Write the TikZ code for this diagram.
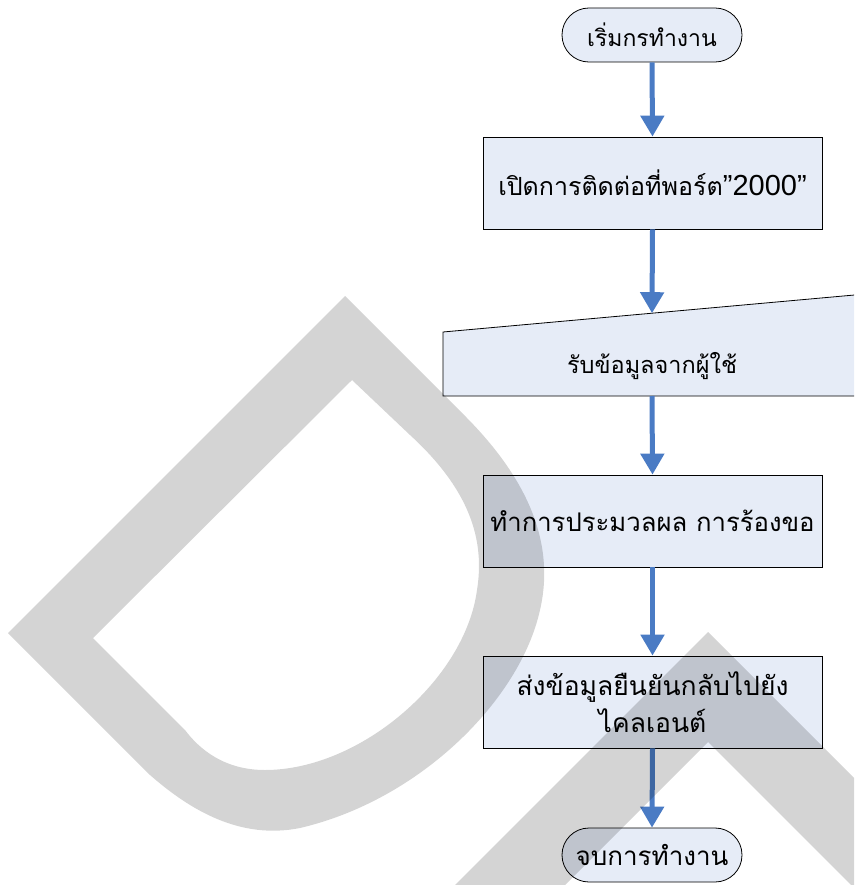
\documentclass[tikz,border=0pt]{standalone}
\usepackage{fontspec}
\usetikzlibrary{arrows.meta}
\newfontfamily\thaifont[Script=Thai]{Loma}
\newfontfamily\numfont{Liberation Sans}
\definecolor{boxfill}{HTML}{E6ECF7}
\definecolor{flowblue}{HTML}{4A7BC4}
\begin{document}
\begin{tikzpicture}[x=1pt,y=-1pt,
  procbox/.style={draw=black, line width=0.8pt, fill=boxfill,
    minimum width=339pt, minimum height=92pt, inner sep=0pt, align=center,
    font=\thaifont\fontsize{25.7}{37}\selectfont},
  termbox/.style={draw=black, line width=0.8pt, fill=boxfill,
    minimum width=180pt, minimum height=54pt, rounded corners=26.9pt, inner sep=0pt},
  flow/.style={draw=flowblue, line width=5pt, -{Triangle[width=23pt,length=21pt]}},
  wmark/.style={fill=black, fill opacity=0.17, even odd rule}
]
\useasboundingbox (0,0) rectangle (854,885);
\clip (0,0) rectangle (854,885);

% flowchart nodes
\node[termbox, font=\thaifont\fontsize{23}{26}\selectfont] (start) at (652,35) {เริ่มกรทำงาน};
\node[procbox, font=\thaifont\fontsize{25}{37}\selectfont] (open) at (652.5,183) {เปิดการติดต่อที่พอร์ต{\numfont\fontsize{29}{30}\selectfont ”2000”}};

% manual input shape, running off the right edge
\path[fill=boxfill, draw=black, line width=0.8pt]
  (443,396) -- (443,332) -- (900,290.9) -- (900,396) -- cycle;
\coordinate (intop) at (652,313.2);
\coordinate (inbot) at (652,396);
\node[font=\thaifont\fontsize{23.5}{30}\selectfont] (input) at (652,366) {รับข้อมูลจากผู้ใช้};

\node[procbox] (proc) at (652.5,521) {ทำการประมวลผล การร้องขอ};
\node[procbox, font=\thaifont\fontsize{26.5}{37}\selectfont] (reply) at (652.5,702) {ส่งข้อมูลยืนยันกลับไปยัง\\ไคลเอนต์};
\node[termbox, font=\thaifont\fontsize{26}{30}\selectfont] (stop) at (652,855) {จบการทำงาน};

% connectors
\draw[flow] (start.south) -- (open.north);
\draw[flow] (open.south) -- (intop);
\draw[flow] (inbot) -- (proc.north);
\draw[flow] (proc.south) -- (reply.north);
\draw[flow] (reply.south) -- (stop.north);

% translucent letter shapes laid over the chart
\path[wmark]
  (8,633) -- (345,296) -- (462,413)
    .. controls (530,480) and (555,545) .. (540,610)
    .. controls (520,700) and (420,800) .. (300,828)
    .. controls (240,840) and (190,810) .. (150,775) -- cycle
  (93,638) -- (352,380) -- (410,435)
    .. controls (470,490) and (485,540) .. (477,590)
    .. controls (465,680) and (360,770) .. (265,770)
    .. controls (225,770) and (200,750) .. (185,730) -- cycle;
\path[wmark]
  (440,900) -- (708,632) -- (976,900) -- cycle
  (550,900) -- (708,742) -- (866,900) -- cycle;
\end{tikzpicture}
\end{document}
